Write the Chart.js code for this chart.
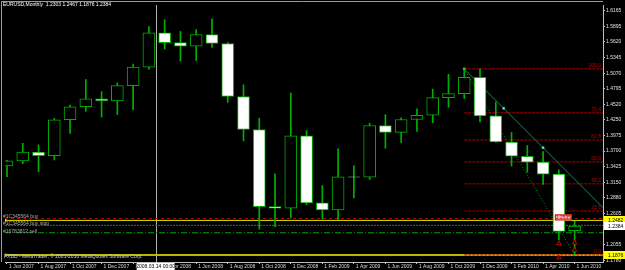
<!DOCTYPE html>
<html>
<head>
<meta charset="utf-8">
<script src="https://cdn.jsdelivr.net/npm/chart.js@4.4.0/dist/chart.umd.min.js"></script>
<style>
  html, body { margin: 0; padding: 0; background: #000; }
  canvas { display: block; }
</style>
</head>
<body>
<canvas id="chart" width="625" height="270"></canvas>
<script>
// EURUSD monthly, Jun 2007 .. Jun 2010
const months = ['Jun 2007','Jul 2007','Aug 2007','Sep 2007','Oct 2007','Nov 2007','Dec 2007',
  'Jan 2008','Feb 2008','Mar 2008','Apr 2008','May 2008','Jun 2008','Jul 2008','Aug 2008','Sep 2008','Oct 2008','Nov 2008','Dec 2008',
  'Jan 2009','Feb 2009','Mar 2009','Apr 2009','May 2009','Jun 2009','Jul 2009','Aug 2009','Sep 2009','Oct 2009','Nov 2009','Dec 2009',
  'Jan 2010','Feb 2010','Mar 2010','Apr 2010','May 2010','Jun 2010'];
const opens = [1.3441,1.3527,1.3682,1.3620,1.4251,1.4480,1.4618,
  1.4584,1.4850,1.5177,1.5781,1.5608,1.5544,1.5746,1.5591,1.4660,1.4080,1.2725,1.2695,
  1.3970,1.2791,1.2665,1.3250,1.3240,1.4150,1.4030,1.4255,1.4330,1.4640,1.4710,1.4995,
  1.4320,1.3860,1.3610,1.3505,1.3295,1.2303];
const highs = [1.3540,1.3837,1.3810,1.4274,1.4510,1.4958,1.4746,
  1.4901,1.5229,1.5889,1.6010,1.5803,1.5837,1.6027,1.5610,1.4865,1.4280,1.3300,1.4720,
  1.4060,1.3096,1.3740,1.3440,1.4190,1.4340,1.4285,1.4445,1.4790,1.5050,1.5145,1.5145,
  1.4562,1.4027,1.3798,1.3690,1.3370,1.2467];
const lows = [1.3251,1.3480,1.3337,1.3544,1.4010,1.4401,1.4298,
  1.4343,1.4429,1.5136,1.5493,1.5281,1.5291,1.5522,1.4557,1.3880,1.2330,1.2370,1.2527,
  1.2760,1.2505,1.2500,1.2877,1.3200,1.3750,1.3850,1.4045,1.4200,1.4470,1.4625,1.4212,
  1.3855,1.3436,1.3330,1.3115,1.2140,1.1876];
const closes = [1.3527,1.3682,1.3620,1.4251,1.4480,1.4618,1.4584,
  1.4850,1.5177,1.5781,1.5608,1.5544,1.5746,1.5591,1.4660,1.4080,1.2725,1.2695,1.3970,
  1.2791,1.2665,1.3250,1.3240,1.4150,1.4030,1.4255,1.4330,1.4640,1.4710,1.4995,1.4320,
  1.3860,1.3610,1.3505,1.3295,1.2290,1.2384];

const priceTicks = [1.6165,1.5895,1.5620,1.5345,1.5070,1.4795,1.4520,1.4250,1.3975,
  1.3700,1.3425,1.3150,1.2880,1.2605,1.2055,1.1780];
const timeTicks = [0,2,4,6,8,10,12,14,16,18,20,22,24,26,28,30,32,34,36];

// drawn objects
const trendTime = [29, 34];
const trendPrice = [1.5145, 1.3760];
const fibTime = [29, 36];
const fibPrice = [1.5145, 1.1876];
const fibLevels = [100.0, 76.4, 61.8, 50.0, 38.2, 23.6, 0.0];
const orderNames = ['#1C345564 buy', '#1C345564 buy stop', '#16783812 sell'];
const orderPrices = [1.2515, 1.2395, 1.2265];
const hLinePrices = [1.2482, 1.1876];
const arrowTime = [35, 36, 36, 35];
const arrowPrice = [1.2079, 1.2090, 1.1958, 1.1830];
const vLineTime = 9.43;
const vLineLabel = '2008.03.14 00:00';

const X_MIN = -0.126, X_MAX = 37.8;
const Y_MIN = 1.1751, Y_MAX = 1.6268;
const GREEN = '#00b000';
const FONT = 'Liberation Sans, Arial, sans-serif';

const bodies = months.map((m, i) => ({x: i, y: [opens[i], closes[i]]}));
const wicks = months.map((m, i) => ({x: i, y: [lows[i], highs[i]]}));

const trendSlope = (trendPrice[1] - trendPrice[0]) / (trendTime[1] - trendTime[0]);
const trendData = [
  {x: trendTime[0], y: trendPrice[0]},
  {x: (trendTime[0] + trendTime[1]) / 2, y: (trendPrice[0] + trendPrice[1]) / 2},
  {x: trendTime[1], y: trendPrice[1]},
  {x: X_MAX, y: trendPrice[0] + trendSlope * (X_MAX - trendTime[0])}
];
const fibPriceOf = r => fibPrice[1] + (fibPrice[0] - fibPrice[1]) * r / 100;

function hLine(price, color, dash, width, mark) {
  return {
    type: 'line', order: 5,
    data: [{x: X_MIN, y: price}, {x: X_MAX, y: price}],
    borderColor: color, borderWidth: width || 1, borderDash: dash || [],
    pointRadius: mark ? [2, 0] : 0, pointStyle: 'rect',
    pointBackgroundColor: color, pointBorderWidth: 0
  };
}

const datasets = [
  {
    type: 'bar', order: 1, grouped: false, data: bodies,
    backgroundColor: bodies.map(b => b.y[1] >= b.y[0] ? '#000000' : '#ffffff'),
    borderColor: GREEN, borderWidth: 1, borderSkipped: false, barThickness: 12
  },
  {
    type: 'bar', order: 2, grouped: false, data: wicks,
    backgroundColor: GREEN, borderWidth: 0, barThickness: 1
  },
  hLine(orderPrices[0], '#c00000', [3, 3]),
  hLine(hLinePrices[0], '#e0e000', [], 1, true),
  hLine(orderPrices[1], '#3a6a5a', [2, 1]),
  hLine(orderPrices[2], '#00a000', [6, 2, 1, 2]),
  hLine(hLinePrices[1], '#b8b800', [], 2, true)
];
fibLevels.forEach(r => {
  datasets.push({
    type: 'line', order: 4,
    data: [{x: fibTime[0], y: fibPriceOf(r)}, {x: X_MAX, y: fibPriceOf(r)}],
    borderColor: '#a00000', borderWidth: 1, borderDash: [3, 1], pointRadius: 0
  });
});
datasets.push({
  type: 'line', order: 3,
  data: [{x: fibTime[0], y: fibPrice[0]}, {x: fibTime[1], y: fibPrice[1]}],
  borderColor: '#00a000', borderWidth: 1, borderDash: [1, 2], pointRadius: 0
});
datasets.push({
  type: 'line', order: 3, data: trendData,
  borderColor: '#009050', borderWidth: 1,
  pointRadius: [1.5, 1.5, 1.5, 0], pointStyle: 'rect',
  pointBackgroundColor: '#e0ffe0', pointBorderColor: '#00a060', pointBorderWidth: 0.5
});
datasets.push({
  type: 'line', order: 0, showLine: false,
  data: arrowTime.map((t, i) => ({x: t, y: arrowPrice[i]})),
  pointStyle: 'triangle', pointRadius: 2.5,
  pointBorderColor: '#d00000', pointBackgroundColor: '#000', pointBorderWidth: 1
});

function font(size) { return size + 'px ' + FONT; }

const mt4 = {
  id: 'mt4',
  beforeDraw(chart) {
    const c = chart.ctx;
    c.save();
    c.fillStyle = '#000';
    c.fillRect(0, 0, chart.width, chart.height);
    c.restore();
  },
  beforeDatasetsDraw(chart) {
    const c = chart.ctx, a = chart.chartArea;
    const x = Math.round(chart.scales.x.getPixelForValue(vLineTime)) + 0.5;
    c.save();
    c.strokeStyle = '#b0b0b0';
    c.lineWidth = 1;
    c.beginPath(); c.moveTo(x, a.top); c.lineTo(x, a.bottom); c.stroke();
    c.restore();
  },
  afterDatasetsDraw(chart) {
    const c = chart.ctx, a = chart.chartArea, ys = chart.scales.y;
    c.save();
    c.font = font(5);
    // fibo level labels
    c.fillStyle = '#c00000';
    c.textAlign = 'right';
    c.textBaseline = 'bottom';
    fibLevels.forEach(r => {
      c.fillText(r.toFixed(1), a.right - 2, ys.getPixelForValue(fibPriceOf(r)) - 0.5);
    });
    // order labels
    c.fillStyle = '#a8a8a8';
    c.textAlign = 'left';
    orderNames.forEach((n, i) => {
      c.fillText(n, 3, ys.getPixelForValue(orderPrices[i]) + 1);
    });
    // frame
    c.strokeStyle = '#9a9a9a';
    c.lineWidth = 1;
    c.beginPath();
    c.moveTo(1.5, a.bottom); c.lineTo(1.5, 1.5); c.lineTo(a.right, 1.5);
    c.stroke();
    c.restore();
  },
  afterDraw(chart) {
    const c = chart.ctx, a = chart.chartArea, ys = chart.scales.y, xs = chart.scales.x;
    const last = months.length - 1;
    c.save();
    c.font = font(5);
    c.textBaseline = 'middle';
    c.textAlign = 'left';
    // title
    c.fillStyle = '#ffffff';
    c.fillText('EURUSD,Monthly  ' + [opens[last], highs[last], lows[last], closes[last]]
      .map(v => v.toFixed(4)).join(' '), 3, 5);
    // footer
    c.fillStyle = '#d0d0d0';
    c.fillText('FXDD - MetaTrader, \u00a9 2001-2010 MetaQuotes Software Corp.', 4, 257);
    // order price tag on chart
    const ty = ys.getPixelForValue(1.2535), tx = xs.getPixelForValue(35);
    c.fillStyle = '#f4b8b8';
    c.fillRect(tx - 4, ty - 3, 17, 6);
    c.strokeStyle = '#d00000';
    c.strokeRect(tx - 3.5, ty - 2.5, 16, 5);
    c.fillStyle = '#c00000';
    c.fillText('1.2535', tx - 3, ty + 0.5);
    // price boxes on the axis
    const boxes = [
      {p: hLinePrices[0], bg: '#ffff00'},
      {p: closes[last], bg: '#ffffff'},
      {p: hLinePrices[1], bg: '#ffff00'}
    ];
    boxes.forEach(b => {
      const y = Math.round(ys.getPixelForValue(b.p));
      c.fillStyle = b.bg;
      c.fillRect(a.right + 1, y - 4, chart.width - a.right - 1, 8);
      c.fillStyle = '#000';
      c.fillText(b.p.toFixed(4), a.right + 5, y + 0.5);
    });
    // time box of the vertical line
    const vx = xs.getPixelForValue(vLineTime);
    c.fillStyle = '#ffffff';
    c.fillRect(vx - 19, a.bottom + 1, 38, 7);
    c.fillStyle = '#000';
    c.textAlign = 'center';
    c.fillText(vLineLabel, vx, a.bottom + 4.5);
    c.restore();
  }
};

Chart.defaults.font.family = FONT;
Chart.defaults.font.size = 5;

new Chart(document.getElementById('chart'), {
  type: 'bar',
  data: {datasets: datasets},
  plugins: [mt4],
  options: {
    responsive: false,
    animation: false,
    devicePixelRatio: 1,
    layout: {padding: 0},
    plugins: {legend: {display: false}, tooltip: {enabled: false}},
    scales: {
      x: {
        type: 'linear', min: X_MIN, max: X_MAX, offset: false, bounds: 'data',
        grid: {offset: false, drawOnChartArea: false, drawTicks: true, tickLength: 2, color: '#c0c0c0'},
        border: {color: '#c0c0c0'},
        afterBuildTicks: s => { s.ticks = timeTicks.map(v => ({value: v})); },
        afterFit: s => { s.height = 8; s.paddingLeft = 0; s.paddingRight = 0; },
        ticks: {
          autoSkip: false, maxRotation: 0, minRotation: 0, align: 'start',
          labelOffset: 2, padding: 0, color: '#d8d8d8', font: {size: 5},
          callback: v => '1 ' + months[v]
        }
      },
      y: {
        type: 'linear', position: 'right', min: Y_MIN, max: Y_MAX, beginAtZero: false, bounds: 'data',
        grid: {drawOnChartArea: false, drawTicks: true, tickLength: 2, color: '#c0c0c0'},
        border: {color: '#c0c0c0'},
        afterBuildTicks: s => { s.ticks = priceTicks.map(v => ({value: v})); },
        afterFit: s => { s.width = 22; s.paddingTop = 0; s.paddingBottom = 0; },
        ticks: {padding: 1, color: '#e0e0e0', font: {size: 5}, callback: v => v.toFixed(4)}
      }
    }
  }
});
</script>
</body>
</html>
